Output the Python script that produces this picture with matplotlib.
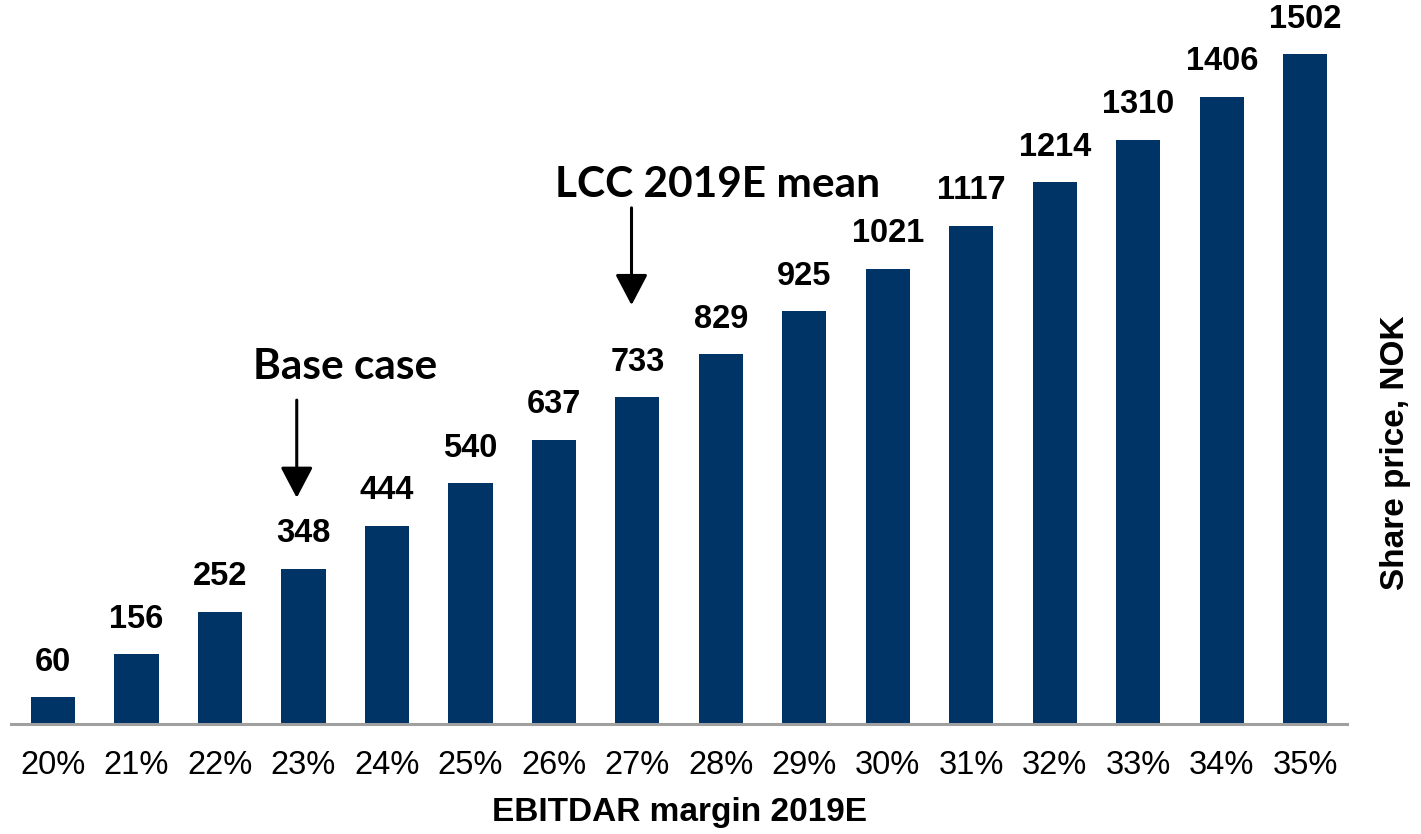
import matplotlib
matplotlib.use("Agg")
import matplotlib.pyplot as plt

margins = ["20%", "21%", "22%", "23%", "24%", "25%", "26%", "27%",
           "28%", "29%", "30%", "31%", "32%", "33%", "34%", "35%"]
prices = [60, 156, 252, 348, 444, 540, 637, 733,
          829, 925, 1021, 1117, 1214, 1310, 1406, 1502]

base_idx = 3      # 23% bar
lcc_idx = 7       # 27% bar

plt.rcParams["font.family"] = ["Liberation Sans", "DejaVu Sans"]

fig = plt.figure(figsize=(14.21, 8.34), dpi=100)
ax = fig.add_axes([0.0079, 0.1319, 0.9400, 0.8681])

x = list(range(len(prices)))
bars = ax.bar(x, prices, width=0.53, color="#003366")

for xi, v in zip(x, prices):
    ax.annotate(f"{v}", (xi, v), xytext=(0, 14), textcoords="offset points",
                ha="center", va="bottom", fontsize=23.5, fontweight="bold")

ax.set_xlim(-0.5, len(prices) - 0.5)
ax.set_ylim(0, 1623)
ax.set_xticks(x)
ax.set_xticklabels(margins, fontsize=23.5)
ax.tick_params(axis="x", length=0, pad=19)
ax.set_yticks([])
for s in ["top", "right", "left"]:
    ax.spines[s].set_visible(False)
ax.spines["bottom"].set_color("#a0a0a0")
ax.spines["bottom"].set_linewidth(2.2)

ax.set_xlabel("EBITDAR margin 2019E", fontsize=24, fontweight="bold", labelpad=11)
fig.text(0.982, 0.457, "Share price, NOK", rotation=90, ha="center", va="center",
         fontsize=24, fontweight="bold")

arrow = dict(arrowstyle="-|>,head_length=0.95,head_width=0.5", mutation_scale=20,
             lw=2.2, color="black", shrinkA=0, shrinkB=0)
ax.annotate("", xy=(base_idx - 0.08, 507), xytext=(base_idx - 0.08, 726), arrowprops=arrow)
ax.text(base_idx + 0.5, 800, "Base case", ha="center", va="center",
        fontsize=30.5, fontweight="bold", family="Lato")
ax.annotate("", xy=(lcc_idx - 0.07, 939), xytext=(lcc_idx - 0.07, 1157), arrowprops=arrow)
ax.text(lcc_idx + 0.96, 1208, "LCC 2019E mean", ha="center", va="center",
        fontsize=30.5, fontweight="bold", family="Lato")

fig.savefig("out.png", dpi=100)
